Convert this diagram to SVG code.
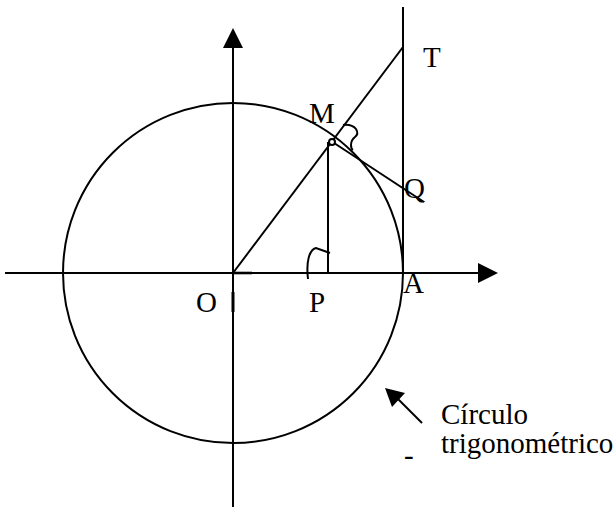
<svg xmlns="http://www.w3.org/2000/svg" width="616" height="517" viewBox="0 0 616 517">
<style>
.ln{stroke:#000;stroke-width:2;fill:none}
.lbl{font-family:"Liberation Serif","Times New Roman",serif;font-size:29px;fill:#000}
</style>
<rect width="616" height="517" fill="#fff"/>
<g id="axes">
<line class="ln" x1="5" y1="273" x2="480" y2="273"/>
<polygon points="478,263 498,273 478,283" fill="#000"/>
<line class="ln" x1="233" y1="507" x2="233" y2="46"/>
<polygon points="223,48 233,28 243,48" fill="#000"/>
<line stroke="#000" stroke-width="3" x1="233" y1="292" x2="233" y2="312"/>
<line stroke="#000" stroke-width="2.6" x1="233" y1="273" x2="252" y2="273"/>
</g>
<g id="circle">
<circle class="ln" cx="233" cy="273" r="170" stroke-width="1.7"/>
</g>
<g id="construction">
<line class="ln" x1="403" y1="7" x2="403" y2="273"/>
<line class="ln" x1="233" y1="273" x2="403" y2="47"/>
<line class="ln" x1="328" y1="142" x2="328" y2="273"/>
<line class="ln" x1="331" y1="141" x2="424" y2="202"/>
<path class="ln" d="M308,279 C306,262 309,250 316,248 L330,253"/>
<path class="ln" d="M343,125 Q352,124 356,129 Q359,134 355,137 Q351,140 351,145 Q351,149 353,150"/>
<circle cx="332" cy="142" r="3" fill="#fff" stroke="#000" stroke-width="2"/>
</g>
<g id="pointer">
<line class="ln" x1="422" y1="423" x2="396" y2="397"/>
<polygon points="385,388 405,393 392,407" fill="#000"/>
</g>
<g id="labels">
<text class="lbl" x="423" y="67">T</text>
<text class="lbl" x="309" y="123">M</text>
<text class="lbl" x="404" y="198">Q</text>
<text class="lbl" x="196" y="312">O</text>
<text class="lbl" x="309" y="312">P</text>
<text class="lbl" x="403" y="293">A</text>
<text class="lbl" x="441" y="424">Círculo</text>
<text class="lbl" x="441" y="453">trigonométrico</text>
<text class="lbl" x="404" y="465">-</text>
</g>
</svg>
